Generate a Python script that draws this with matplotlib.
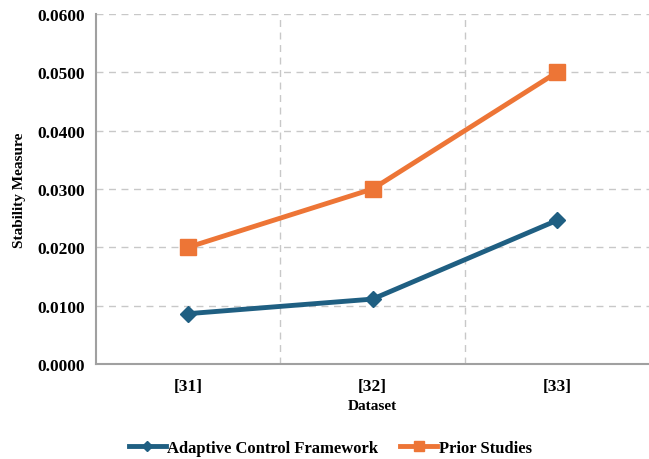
import matplotlib.pyplot as plt
from matplotlib.ticker import FixedLocator

plt.rcParams['font.family'] = ['Liberation Serif', 'DejaVu Serif']
plt.rcParams['font.weight'] = 'bold'

datasets = ['[31]', '[32]', '[33]']
adaptive = [0.0086, 0.0111, 0.0246]
prior = [0.0200, 0.0300, 0.0500]

fig = plt.figure(figsize=(6.49, 4.6), dpi=100)
ax = fig.add_axes([0.148, 0.207, 0.852, 0.76])

x = list(range(len(datasets)))
ax.plot(x, adaptive, color='#1F5F82', linewidth=3.5, marker='D', markersize=8,
        label='Adaptive Control Framework', zorder=3)
ax.plot(x, prior, color='#ED7536', linewidth=3.5, marker='s', markersize=11,
        label='Prior Studies', zorder=3)

ax.set_xlim(-0.5, 2.5)
ax.set_ylim(0, 0.06)
ax.set_xticks(x)
ax.set_xticklabels(datasets)
ax.set_yticks([i * 0.01 for i in range(7)])
ax.set_yticklabels([f'{i * 0.01:.4f}' for i in range(7)])
ax.xaxis.set_minor_locator(FixedLocator([0.5, 1.5]))

ax.grid(axis='y', which='major', color='#C8C8C8', linestyle=(0, (5, 4)), linewidth=1)
ax.grid(axis='x', which='minor', color='#C8C8C8', linestyle=(0, (5, 4)), linewidth=1)
ax.set_axisbelow(True)

ax.tick_params(axis='both', which='both', length=0, labelsize=12.5, pad=8)
ax.tick_params(axis='x', pad=10)
for side in ['top', 'right']:
    ax.spines[side].set_visible(False)
for side in ['left', 'bottom']:
    ax.spines[side].set_color('#A0A0A0')
    ax.spines[side].set_linewidth(1.5)

ax.set_xlabel('Dataset', fontsize=11, fontweight='bold', labelpad=4)
ax.set_ylabel('Stability Measure', fontsize=11, fontweight='bold', labelpad=8)

fig.legend(loc='lower center', bbox_to_anchor=(0.509, -0.026), ncol=2, frameon=False,
           fontsize=12, handlelength=2.2, columnspacing=1.3, handletextpad=0.1,
           markerscale=0.6)

fig.savefig('out.png', dpi=100)
